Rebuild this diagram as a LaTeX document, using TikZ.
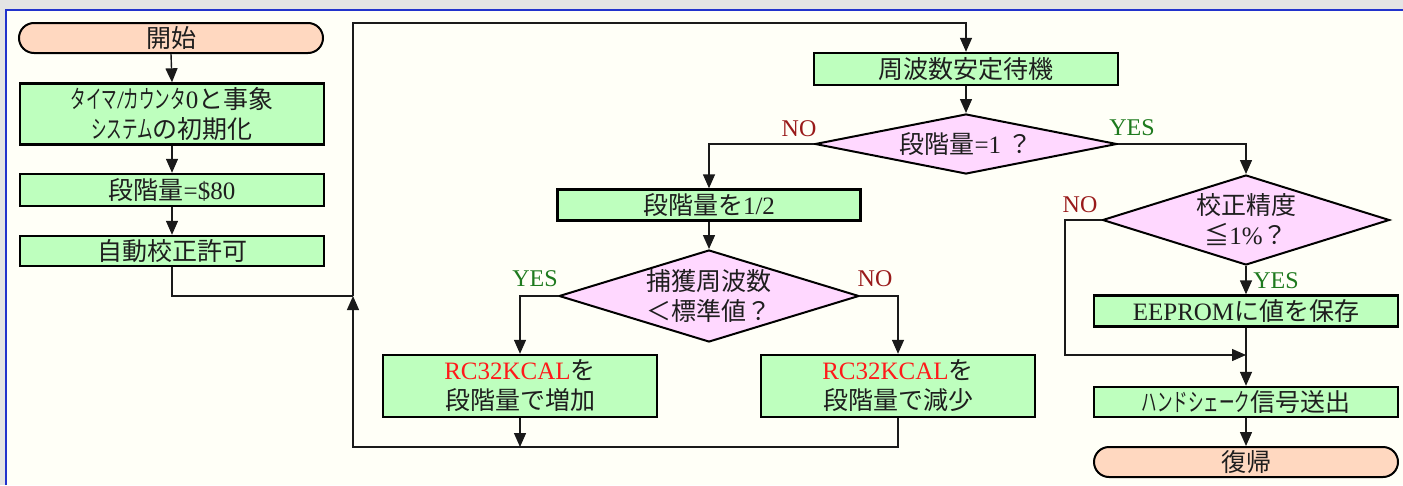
\documentclass[tikz,border=0pt]{standalone}
\usepackage{graphicx}
\usepackage{fontspec}
\setmainfont{Liberation Serif}
\newfontfamily\jp{Noto Sans CJK JP}
\usetikzlibrary{shapes.geometric,arrows.meta}
\definecolor{bgc}{HTML}{FFFFF7}
\definecolor{stripc}{HTML}{E4E4E4}
\definecolor{framec}{HTML}{2233CC}
\definecolor{boxg}{HTML}{BEFFBE}
\definecolor{termc}{HTML}{FFD8C0}
\definecolor{diac}{HTML}{FFD8FF}
\definecolor{ink}{HTML}{1E1E1E}
\definecolor{linec}{HTML}{1A1A1A}
\definecolor{yesc}{HTML}{1E7A1E}
\definecolor{noc}{HTML}{991A1A}
\definecolor{rcred}{HTML}{FF1A1A}
\newcommand{\J}[1]{{\jp #1}}
\newcommand{\hw}[1]{\scalebox{0.62}[1]{\jp #1}}
\tikzset{tipshape/.tip={Triangle[length=14pt,width=12pt]}}
\begin{document}
\begin{tikzpicture}[x=1pt,y=-1pt,
  every node/.style={font=\fontsize{25}{30}\selectfont, text=ink},
  box/.style={draw=black, line width=2.4pt, fill=boxg, minimum width=304pt, minimum height=31pt, inner sep=0pt, align=center},
  term/.style={draw=black, line width=2pt, fill=termc, rounded corners=15pt, minimum width=304pt, minimum height=30pt, inner sep=0pt, align=center},
  dia/.style={diamond, draw=black, line width=2pt, fill=diac, inner sep=0pt, align=center},
  conn/.style={line width=1.4pt, draw=linec},
  arr/.style={conn, -tipshape},
  yeslab/.style={text=yesc, font=\fontsize{24}{28}\selectfont},
  nolab/.style={text=noc, font=\fontsize{24}{28}\selectfont}]
\useasboundingbox (0,0) rectangle (1403,485);
\fill[bgc] (0,0) rectangle (1403,485);
\fill[stripc] (0,0) rectangle (1403,9);
\fill[stripc] (0,0) rectangle (5,485);
\draw[framec, line width=2pt] (6,485) -- (6,10) -- (1403,10);

% left column
\node[term] (start) at (171,38) {\J{開始}};
\node[box, minimum height=61pt] (init) at (172,114) {\hw{タイマ}/\hw{カウンタ}0\J{と事象}\\\hw{システム}\J{の初期化}};
\node[box, minimum height=32pt] (step80) at (172,190) {\J{段階量}=\$80};
\node[box, minimum height=30pt] (autocal) at (172,251) {\J{自動校正許可}};

% middle
\node[box, minimum height=32pt] (wait) at (966,69) {\J{周波数安定待機}};
\node[dia, minimum width=302pt, minimum height=60pt, shape aspect=5] (d1) at (966,144) {\J{段階量}=1 \J{？}};
\node[box, minimum width=303pt, minimum height=31pt] (half) at (709,205) {\J{段階量を}1/2};
\node[dia, minimum width=300pt, minimum height=92pt, shape aspect=3.26] (d2) at (709,296) {\J{捕獲周波数}\\\J{＜標準値？}};
\node[box, minimum width=274pt, minimum height=62pt] (inc) at (520,386) {\textcolor{rcred}{RC32KCAL}\J{を}\\\J{段階量で増加}};
\node[box, minimum width=274pt, minimum height=62pt] (dec) at (898,386) {\textcolor{rcred}{RC32KCAL}\J{を}\\\J{段階量で減少}};

% right
\node[dia, minimum width=287pt, minimum height=90pt, shape aspect=3.19] (d3) at (1246,220) {\J{校正精度}\\\J{≦}1\%\J{？}};
\node[box, minimum height=31pt] (eeprom) at (1246,311) {EEPROM\J{に値を保存}};
\node[box, minimum height=30pt] (hs) at (1246,402) {\hw{ハンドシェーク}\J{信号送出}};
\node[term] (ret) at (1246,462) {\J{復帰}};

% labels
\node[nolab] (no1) at (799,129) {NO};
\node[yeslab] (yes1) at (1132,128) {YES};
\node[yeslab] (yes2) at (535,279) {YES};
\node[nolab] (no2) at (875,279) {NO};
\node[nolab] (no3) at (1080,205) {NO};
\node[yeslab] (yes3) at (1276,281) {YES};

% helper coordinates
\coordinate (jm) at (353,296);
\coordinate (tl) at (353,23);
\coordinate (bl) at (353,447);
\coordinate (nc) at (1065,355);
\coordinate (mj) at (1246,355);

% connectors
\draw[arr] (start.south) -- (init.north);
\draw[arr] (init.south) -- (step80.north);
\draw[arr] (step80.south) -- (autocal.north);
\draw[conn] (autocal.south) |- (jm);
\draw[arr] (jm) -- (tl) -| (wait.north);
\draw[arr] (wait.south) -- (d1.north);
\draw[arr] (d1.west) -| (half.north);
\draw[arr] (d1.east) -| (d3.north);
\draw[arr] (half.south) -- (d2.north);
\draw[arr] (d2.west) -| (inc.north);
\draw[arr] (d2.east) -| (dec.north);
\draw[arr] (inc.south) -- (inc.south |- bl);
\draw[arr] (dec.south) |- (bl) -- (jm);
\draw[arr] (d3.south) -- (eeprom.north);
\draw[arr] (d3.west) -| (nc) -- (mj);
\draw[arr] (eeprom.south) -- (hs.north);
\draw[arr] (hs.south) -- (ret.north);
\end{tikzpicture}
\end{document}
